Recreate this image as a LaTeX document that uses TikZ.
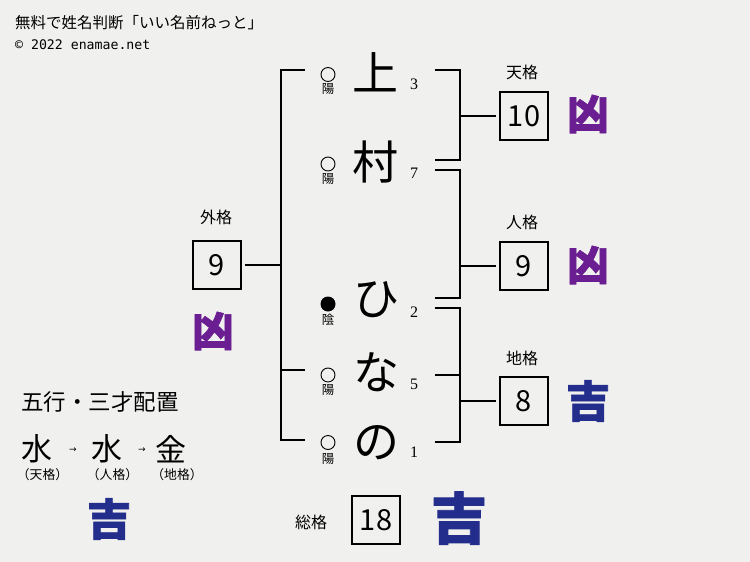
\documentclass[tikz,border=0pt]{standalone}
\usepackage{fontspec}
\setmainfont{Noto Sans CJK JP}
\newfontfamily\serifnum{Liberation Serif}
\newfontfamily\monof{DejaVu Sans Mono}
\newfontfamily\arrowf{DejaVu Sans}
\newfontfamily\brush{Noto Sans CJK JP}[BoldFeatures={FakeBold=1.5}]
\definecolor{bgc}{RGB}{240,240,238}
\definecolor{kyoc}{RGB}{106,30,145}
\definecolor{kichic}{RGB}{35,45,140}
\begin{document}
\begin{tikzpicture}[x=1pt,y=-1pt,
  ln/.style={line width=1.4pt},
  gbox/.style={draw, line width=1.6pt, minimum width=48pt, minimum height=48pt, inner sep=0pt, font=\fontsize{29}{29}\selectfont},
  lbl/.style={inner sep=0pt, font=\fontsize{16}{16}\selectfont},
  bigc/.style={inner sep=0pt, font=\fontsize{46}{46}\selectfont},
  snum/.style={inner sep=0pt, font=\serifnum\fontsize{16}{16}\selectfont},
  yy/.style={inner sep=0pt, font=\fontsize{12.5}{12.5}\selectfont},
  mk/.style={draw, line width=0.9pt, circle, minimum size=14pt, inner sep=0pt},
  mkf/.style={fill, circle, minimum size=15pt, inner sep=0pt},
  kyo/.style={inner sep=0pt, text=kyoc, font=\brush\bfseries\fontsize{42}{42}\selectfont},
  kichi/.style={inner sep=0pt, text=kichic, font=\brush\bfseries\fontsize{44}{44}\selectfont},
  gogyo/.style={inner sep=0pt, font=\fontsize{31}{31}\selectfont},
  arr/.style={inner sep=0pt, font=\arrowf\fontsize{9}{9}\selectfont},
  sub/.style={inner sep=0pt, font=\fontsize{12.8}{12.8}\selectfont}
]
\fill[bgc] (0,0) rectangle (750,562);
\useasboundingbox (0,0) rectangle (750,562);

% header
\node[anchor=west, inner sep=0pt, font=\fontsize{15.5}{15.5}\selectfont] (title) at (15,23) {無料で姓名判断「いい名前ねっと」};
\node[anchor=west, inner sep=0pt, font=\monof\fontsize{13.2}{13.2}\selectfont] (copy) at (15,45) {© 2022 enamae.net};

% name characters
\node[bigc] (c1) at (375,72) {上};
\node[bigc] (c2) at (375,162) {村};
\node[bigc] (c3) at (376,300) {ひ};
\node[bigc] (c4) at (376,372) {な};
\node[bigc] (c5) at (376,443) {の};

% yin-yang markers
\node[mk] (m1) at (328,74.5) {};
\node[mk] (m2) at (328,164) {};
\node[mkf] (m3) at (328,304) {};
\node[mk] (m4) at (328,375) {};
\node[mk] (m5) at (328,442.5) {};
\node[yy] (y1) at (328,89) {陽};
\node[yy] (y2) at (328,179) {陽};
\node[yy] (y3) at (328,320) {陰};
\node[yy] (y4) at (328,390) {陽};
\node[yy] (y5) at (328,459) {陽};

% stroke numbers
\node[snum] (n1) at (414,84) {3};
\node[snum] (n2) at (414,173) {7};
\node[snum] (n3) at (414,312.5) {2};
\node[snum] (n4) at (414,384) {5};
\node[snum] (n5) at (414,452.5) {1};

% boxes and labels
\node[gbox] (ten) at (524,116) {10};
\node[gbox] (jin) at (524,266) {9};
\node[gbox] (chi) at (524,401) {8};
\node[gbox] (gai) at (217,265) {9};
\node[gbox] (sou) at (376,520) {18};
\node[lbl] (lten) at (522,72) {天格};
\node[lbl] (ljin) at (522,222) {人格};
\node[lbl] (lchi) at (522,358) {地格};
\node[lbl] (lgai) at (216,217) {外格};
\node[lbl] (lsou) at (311,522) {総格};

% fortune marks
\node[kyo] (k1) at (588,114) {凶};
\node[kyo] (k2) at (588,265) {凶};
\node[kichi] (k3) at (588,401) {吉};
\node[kyo] (k4) at (213,331) {凶};
\node[kichi, font=\brush\bfseries\fontsize{56}{56}\selectfont] (k5) at (459,518) {吉};
\node[kichi] (k6) at (109,519) {吉};

% left bracket (gaikaku)
\coordinate (lt) at (305,70);
\coordinate (lb) at (305,440);
\coordinate (lm) at (305,370);
\coordinate (lx) at (281,265);
\draw[ln] (lt) -| (lx) |- (lb);
\draw[ln] (lm) -- (lm -| lx);
\draw[ln, shorten <=3pt] (gai.east) -- (lx);

% right brackets
\coordinate (t1) at (435,70);
\coordinate (t2) at (435,160);
\coordinate (tx) at (460,116);
\draw[ln] (t1) -| (tx) |- (t2);
\draw[ln, shorten >=3pt] (tx) -- (ten.west);

\coordinate (j1) at (435,170);
\coordinate (j2) at (435,298);
\coordinate (jx) at (460,266);
\draw[ln] (j1) -| (jx) |- (j2);
\draw[ln, shorten >=3pt] (jx) -- (jin.west);

\coordinate (d1) at (435,308);
\coordinate (d2) at (435,442);
\coordinate (dm) at (435,375);
\coordinate (dx) at (460,401);
\draw[ln] (d1) -| (dx) |- (d2);
\draw[ln] (dm) -- (dm -| dx);
\draw[ln, shorten >=3pt] (dx) -- (chi.west);

% gogyo / sansai
\node[anchor=west, inner sep=0pt, font=\fontsize{22.5}{22.5}\selectfont] (gtitle) at (21,402) {五行・三才配置};
\node[gogyo] (g1) at (37,449) {水};
\node[arr] (a1) at (73,450) {→};
\node[gogyo] (g2) at (107,449) {水};
\node[arr] (a2) at (142,450) {→};
\node[gogyo] (g3) at (171,449) {金};
\node[sub] (s1) at (42.5,475) {（天格）};
\node[sub] (s2) at (112.5,475) {（人格）};
\node[sub] (s3) at (177,475) {（地格）};
\end{tikzpicture}
\end{document}
